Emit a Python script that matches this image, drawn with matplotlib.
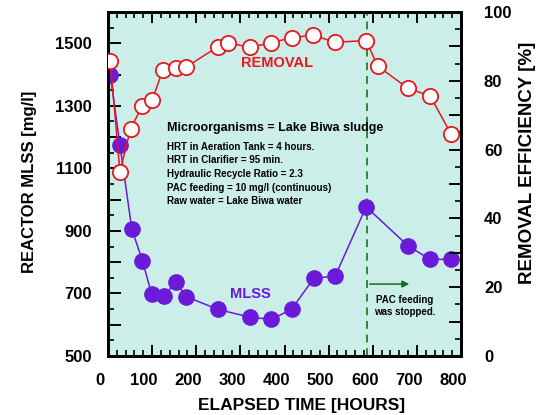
import numpy as np
import matplotlib.pyplot as plt
import matplotlib.transforms as mtransforms
from matplotlib.ticker import MultipleLocator, FuncFormatter

plt.rcParams['font.family'] = ['Liberation Sans', 'DejaVu Sans']
plt.rcParams['font.weight'] = 'bold'
plt.rcParams['axes.labelweight'] = 'bold'

# elapsed time [hours] and measured values
mlss_time = [5, 27, 54, 78, 99, 127, 154, 177, 249, 322, 370, 416, 466, 515, 585, 680, 730, 778]
mlss = [1400, 1175, 905, 805, 697, 693, 736, 690, 649, 624, 617, 649, 748, 756, 977, 852, 809, 809]

rem_time = [5, 27, 51, 78, 100, 124, 154, 176, 249, 271, 322, 370, 416, 464, 515, 585, 611, 680, 730, 778]
removal = [85.8, 53.6, 66.0, 72.8, 74.3, 83.1, 83.6, 83.9, 89.9, 91.1, 89.7, 91.1, 92.5, 93.3, 91.2, 91.7, 84.3, 77.8, 75.6, 64.4]

pac_stop = 587

conditions = [
    "HRT in Aeration Tank = 4 hours.",
    "HRT in Clarifier = 95 min.",
    "Hydraulic Recycle Ratio = 2.3",
    "PAC feeding = 10 mg/l (continuous)",
    "Raw water = Lake Biwa water",
]

purple = '#6a1ad8'
red = '#e8161e'
green = '#2a8a3a'

fig = plt.figure(figsize=(5.39, 4.15), dpi=100)
ax = fig.add_axes([0.2004, 0.1422, 0.6549, 0.8289])
ax.set_facecolor('#cbeee9')
ax2 = ax.twinx()

# MLSS on left axis
ax.plot(mlss_time, mlss, '-o', color=purple, lw=1.1, ms=11, mfc=purple, mec=purple, zorder=3)
ax.set_xlim(0, 800)
ax.set_ylim(500, 1600)

# removal on right axis
ax2.plot(rem_time, removal, '-o', color=red, lw=1.1, ms=11, mfc='white', mec=red, mew=1.3, zorder=4)
ax2.set_ylim(0, 100)

# PAC stop marker
ax.axvline(pac_stop, color=green, lw=1.4, ls=(0, (4, 3)), zorder=2)
ax.annotate('', xy=(689, 730), xytext=(pac_stop, 730),
            arrowprops=dict(arrowstyle='-|>', color='#1a6a1a', lw=1.1, mutation_scale=10))
ax.text(673, 660, 'PAC feeding\nwas stopped.', fontsize=7, ha='center', va='center', linespacing=1.2)

ax.text(134, 1229, 'Microorganisms = Lake Biwa sludge', fontsize=9, va='center')
ax.text(134, 1082, '\n'.join(conditions), fontsize=7, va='center', linespacing=1.45)
ax2.text(383, 85.2, 'REMOVAL', color=red, fontsize=10.5, ha='center', va='center')
ax.text(322, 698, 'MLSS', color=purple, fontsize=10.5, ha='center', va='center')

# ticks
ax.xaxis.set_major_locator(MultipleLocator(100))
ax.xaxis.set_minor_locator(MultipleLocator(20))
ax.yaxis.set_major_locator(MultipleLocator(100))
ax.yaxis.set_minor_locator(MultipleLocator(50))
ax.yaxis.set_major_formatter(FuncFormatter(lambda v, p: '%d' % v if int(round(v)) % 200 == 100 else ''))
ax2.yaxis.set_major_locator(MultipleLocator(10))
ax2.yaxis.set_minor_locator(MultipleLocator(5))
ax2.yaxis.set_major_formatter(FuncFormatter(lambda v, p: '%d' % v if int(round(v)) % 20 == 0 else ''))

ax.tick_params(axis='x', which='both', direction='in', top=True, labelsize=12, pad=12)
ax.tick_params(axis='x', which='major', length=8, width=1.4)
ax.tick_params(axis='x', which='minor', length=4, width=1.2)
ax.tick_params(axis='y', which='both', direction='in', labelsize=12, pad=11.5)
ax.tick_params(axis='y', which='major', length=9, width=1.4)
ax.tick_params(axis='y', which='minor', length=4, width=1.2)
ax2.tick_params(axis='y', which='both', direction='in', labelsize=12, pad=16.5)
ax2.tick_params(axis='y', which='major', length=9, width=1.4)
ax2.tick_params(axis='y', which='minor', length=4, width=1.2)

# x tick labels sit a little left of their ticks in the original
offset = mtransforms.ScaledTranslation(-8 / 100, 0, fig.dpi_scale_trans)
for lab in ax.get_xticklabels():
    lab.set_transform(lab.get_transform() + offset)

for a in (ax, ax2):
    for s in a.spines.values():
        s.set_linewidth(2)

ax.set_xlabel('ELAPSED TIME [HOURS]', fontsize=12.5)
ax.xaxis.set_label_coords(0.547, -0.122)
ax.set_ylabel('REACTOR MLSS [mg/l]', fontsize=12)
ax.yaxis.set_label_coords(-0.201, 0.506)
ax2.set_ylabel('REMOVAL EFFICIENCY [%]', fontsize=13.5)
ax2.yaxis.set_label_coords(1.163, 0.56)

fig.savefig('out.png', dpi=100)
